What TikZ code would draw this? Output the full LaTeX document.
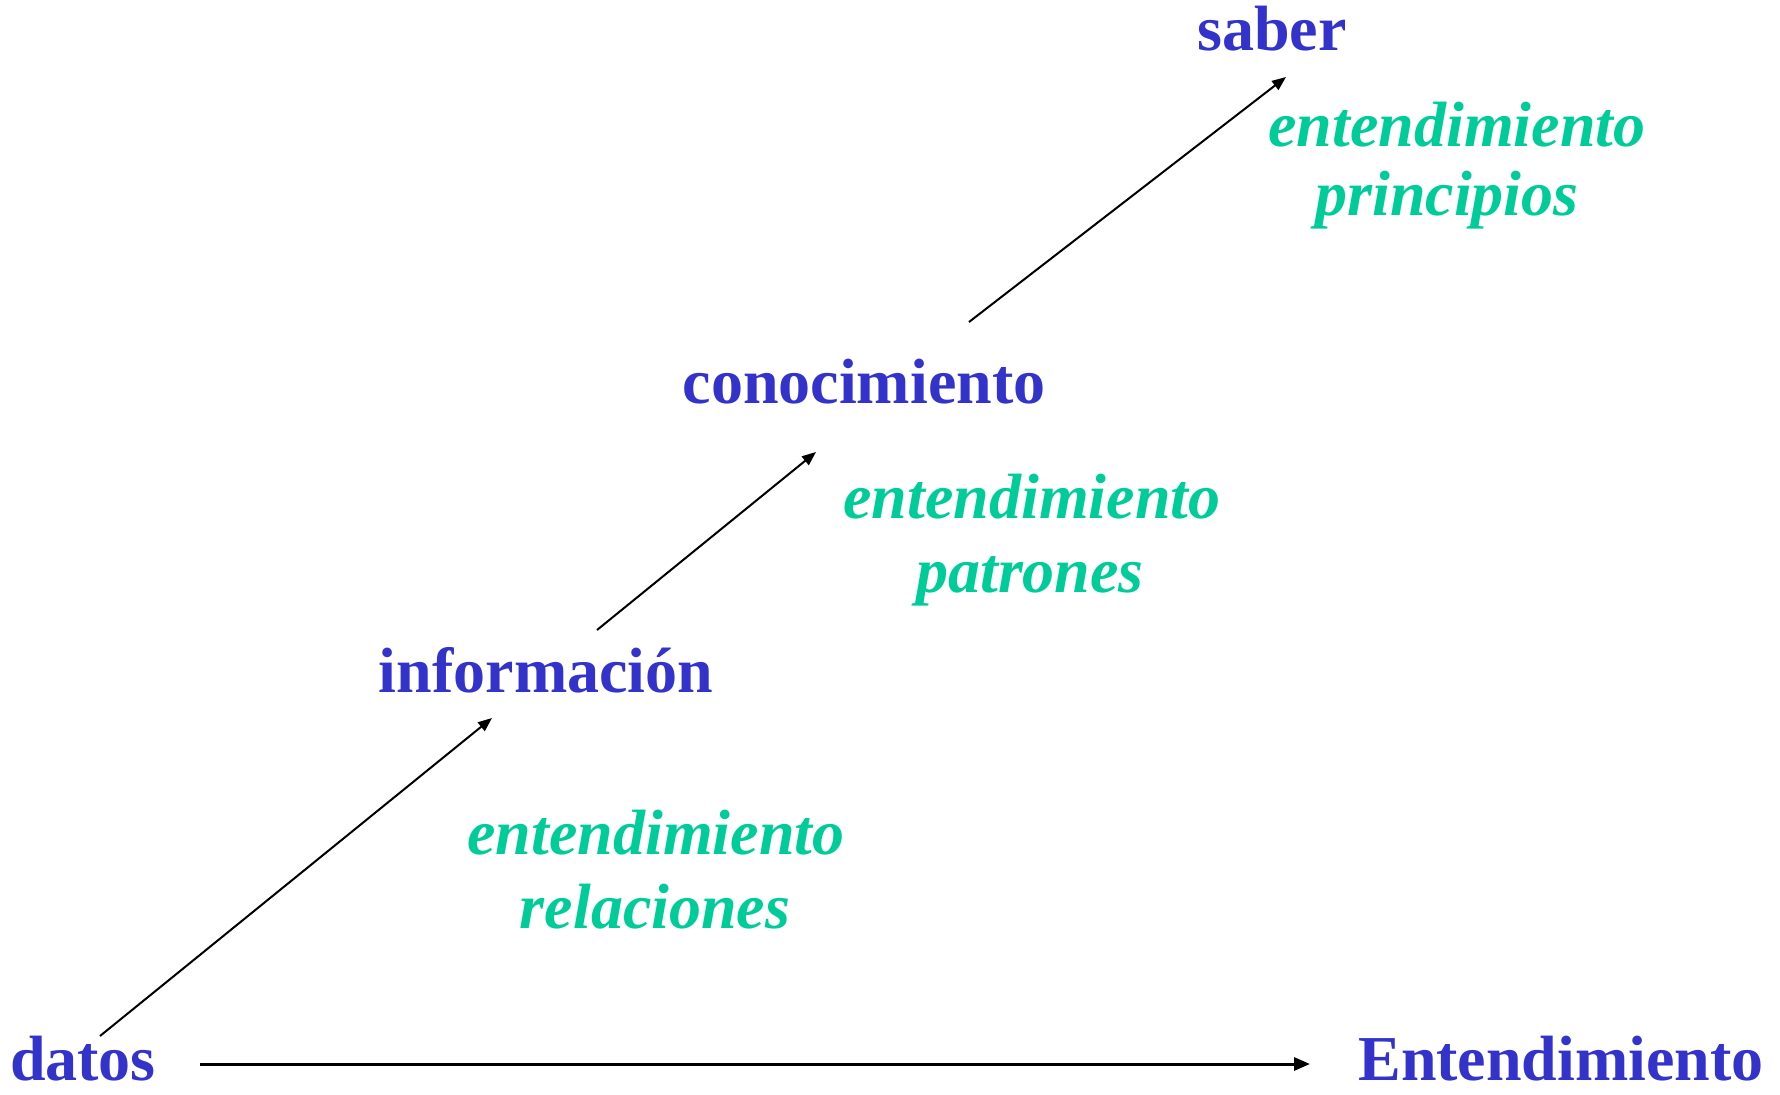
\documentclass[tikz,border=0pt]{standalone}
\usepackage{fontspec}
\setmainfont{Liberation Serif}
\usetikzlibrary{arrows.meta}
\definecolor{termblue}{HTML}{3333CC}
\definecolor{notegreen}{HTML}{00CC99}
\tikzset{
  term/.style={inner sep=0pt, anchor=base, text=termblue, font=\fontsize{32}{38}\selectfont\bfseries},
  bottomterm/.style={term, text depth=0pt},
  note/.style={inner sep=0pt, anchor=base, text=notegreen, font=\fontsize{32}{38}\selectfont\bfseries\itshape},
  link/.style={line width=1pt, -{Triangle[length=7pt,width=5.5pt]}},
  mainlink/.style={line width=1.5pt, -{Triangle[length=8pt,width=6.5pt]}}
}
\begin{document}
\begin{tikzpicture}[x=0.5pt,y=-0.5pt]
\useasboundingbox (0,0) rectangle (1780,1095);
\node[term] (saber) at (1272,51) {saber};
\node[term] (cono) at (864,404) {conocimiento};
\node[term] (info) at (546,692) {información};
\node[bottomterm] (datos) at (83,1080) {datos};
\node[bottomterm] (ent) at (1561,1080) {Entendimiento};
\node[note] (n3a) at (1457,147) {entendimiento};
\node[note] (n3b) at (1447,216) {principios};
\node[note] (n2a) at (1032,518) {entendimiento};
\node[note] (n2b) at (1030,592) {patrones};
\node[note] (n1a) at (656,854) {entendimiento};
\node[note] (n1b) at (655,928) {relaciones};
\coordinate (a1s) at (100,1036);
\coordinate (a1e) at (492,718);
\coordinate (a2s) at (597,630);
\coordinate (a2e) at (816,452);
\coordinate (a3s) at (969,322);
\coordinate (a3e) at (1286,77);
\coordinate (hs) at (200,1064);
\coordinate (he) at (1310,1064);
\draw[link] (a1s) -- (a1e);
\draw[link] (a2s) -- (a2e);
\draw[link] (a3s) -- (a3e);
\draw[mainlink] (hs) -- (he);
\end{tikzpicture}
\end{document}
